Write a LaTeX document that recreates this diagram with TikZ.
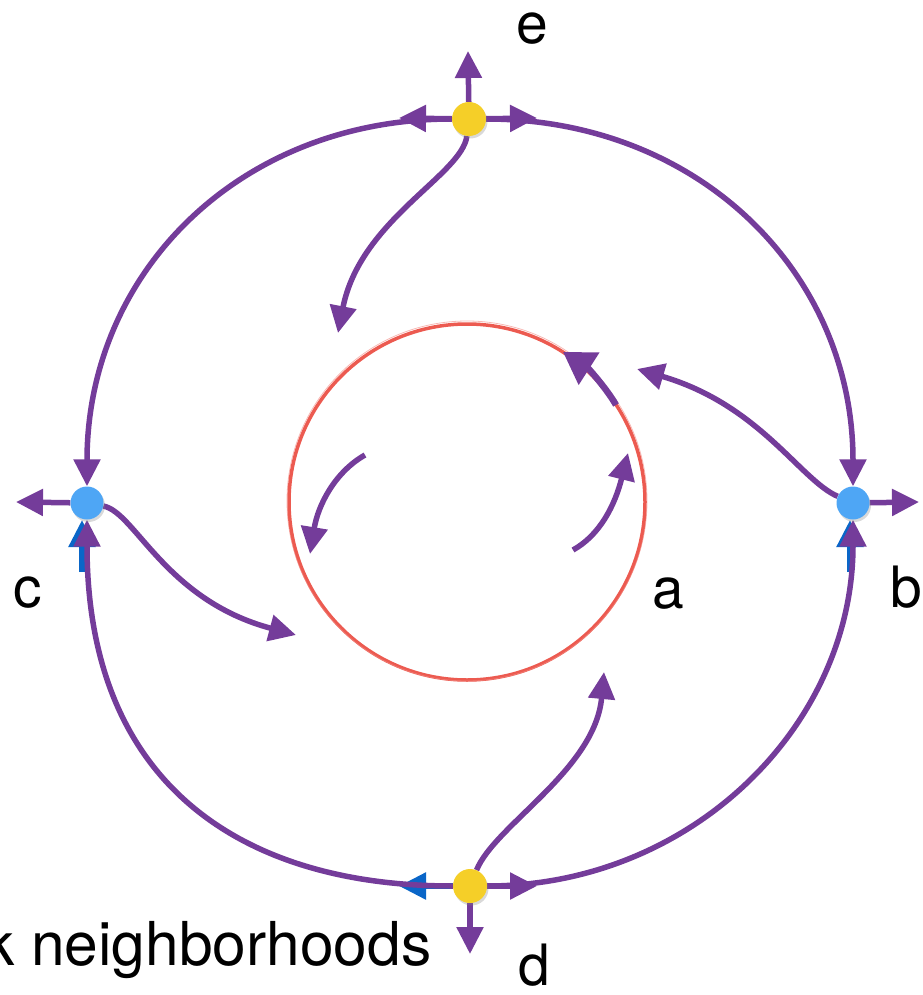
\documentclass[tikz,border=0pt]{standalone}
\usepackage{fontspec}
\setmainfont{TeX Gyre Heros}
\usetikzlibrary{arrows.meta,shadows}
\pgfdeclarelayer{bg}
\pgfsetlayers{bg,main}
\definecolor{flow}{RGB}{116,60,154}
\definecolor{sinkblue}{RGB}{78,166,245}
\definecolor{saddleyellow}{RGB}{245,207,40}
\definecolor{orbitred}{RGB}{236,90,80}
\definecolor{hidblue}{RGB}{10,102,200}
\begin{document}
\begin{tikzpicture}[x=1pt,y=-1pt,
  flowline/.style={draw=flow,line width=5.5pt,-{Triangle[length=27pt,width=26pt]}},
  dotshadow/.style={drop shadow={opacity=0.3,shadow xshift=1.5pt,shadow yshift=-2.5pt}},
  saddlept/.style={circle,fill=saddleyellow,minimum size=34pt,inner sep=0pt,dotshadow},
  sinkpt/.style={circle,fill=sinkblue,minimum size=33pt,inner sep=0pt,dotshadow},
  lbl/.style={font=\fontsize{57}{60}\selectfont,inner sep=0pt,anchor=base}]
\useasboundingbox (0,0) rectangle (922,995);

% fixed points
\node[saddlept] (e) at (469,119) {};
\node[saddlept] (d) at (470,886) {};
\node[sinkpt] (c) at (87,503) {};
\node[sinkpt] (b) at (853,503) {};

% labels
\node[lbl] (le) at (532,44) {e};
\node[lbl] (lc) at (28,607) {c};
\node[lbl] (la) at (668,608) {a};
\node[lbl] (lb) at (906,607) {b};
\node[lbl] (ld) at (534,985) {d};
\node[lbl,anchor=base west,font=\fontsize{60.5}{62}\selectfont] (cap) at (-16,965) {k neighborhoods};

% free ends
\coordinate (eT) at (468,51);
\coordinate (eL) at (399,118);
\coordinate (eR) at (537,118);
\coordinate (cL) at (16,502);
\coordinate (bR) at (919,502);
\coordinate (dD) at (470,954);
\coordinate (dL) at (399,886);
\coordinate (dR) at (537,886);
\coordinate (eIn) at (338,333);
\coordinate (cIn) at (296,635);
\coordinate (bIn) at (637,369);
\coordinate (dIn) at (604,672);
\coordinate (l1s) at (365,455);
\coordinate (l1e) at (310,554);
\coordinate (r1s) at (573,550);
\coordinate (r1e) at (628,453);
\coordinate (oa1) at (616,405);
\coordinate (oa2) at (563,352);
\coordinate (cb1) at (82,572);
\coordinate (cb2) at (82,520);
\coordinate (bb1) at (850,572);
\coordinate (bb2) at (850,520);

\begin{pgfonlayer}{bg}
  % periodic orbit
  \node[circle,draw=orbitred,line width=3.5pt,minimum size=356pt,inner sep=0pt] (orbit) at (467,502) {};
  \node[circle,draw=orbitred!70,opacity=0.6,line width=0.8pt,minimum size=360pt,inner sep=0pt] (orbit2) at (467,501) {};
  \draw[draw=flow,line width=6.5pt,-{Triangle[length=31pt,width=37pt]}] (oa1) .. controls (607,389) and (588,368) .. (oa2);

  % hidden blue strokes
  \draw[flowline,draw=hidblue] (cb1) -- (cb2);
  \draw[flowline,draw=hidblue] (bb1) -- (bb2);
  \draw[flowline,draw=hidblue] (d) -- (dL);

  % outer ring
  \draw[flowline] (e) .. controls (239,119) and (87,273) .. (c);
  \draw[flowline] (e) .. controls (699,119) and (853,273) .. (b);
  \draw[flowline] (d) .. controls (692,886) and (853,725) .. (b);
  \draw[flowline] (d) .. controls (240,886) and (87,783) .. (c);

  % short arrows at the fixed points
  \draw[flowline] (e) -- (eT);
  \draw[flowline] (e) -- (eL);
  \draw[flowline] (e) -- (eR);
  \draw[flowline] (c) -- (cL);
  \draw[flowline] (b) -- (bR);
  \draw[flowline] (d) -- (dD);
  \draw[flowline] (d) -- (dR);

  % flows towards the orbit
  \draw[flowline] (e) .. controls (462,175) and (360,220) .. (eIn);
  \draw[flowline] (c) .. controls (135,512) and (165,600) .. (cIn);
  \draw[flowline] (b) .. controls (800,480) and (760,405) .. (bIn);
  \draw[flowline] (d) .. controls (495,825) and (595,770) .. (dIn);

  % flows inside the orbit
  \draw[flowline] (l1s) .. controls (335,472) and (318,505) .. (l1e);
  \draw[flowline] (r1s) .. controls (600,535) and (615,505) .. (r1e);
\end{pgfonlayer}
\end{tikzpicture}
\end{document}
